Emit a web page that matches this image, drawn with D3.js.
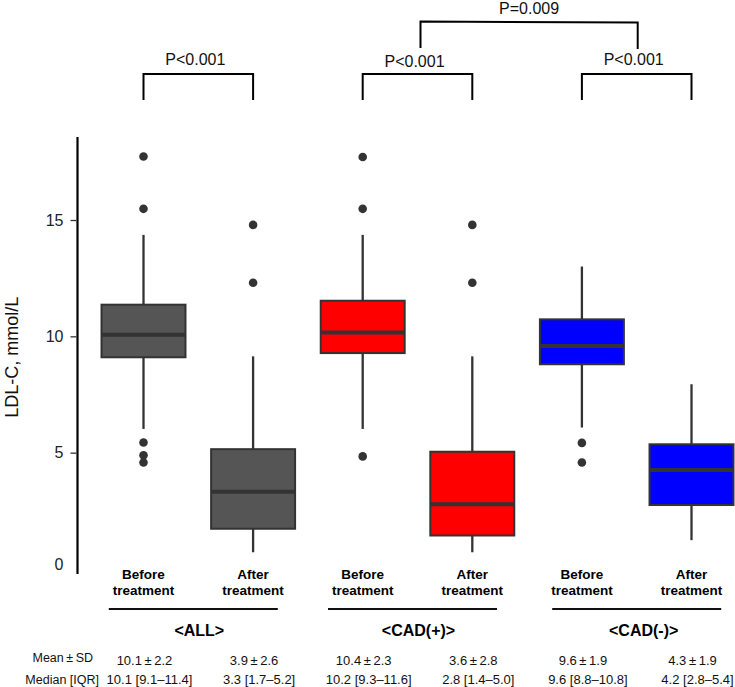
<!DOCTYPE html>
<html>
<head>
<meta charset="utf-8">
<script src="https://cdn.jsdelivr.net/npm/d3@7"></script>
<style>
  html, body { margin: 0; padding: 0; background: #fff; }
  svg { display: block; font-family: "Liberation Sans", Arial, Helvetica, sans-serif; }
</style>
</head>
<body>
<svg id="chart" width="735" height="687"></svg>
<script>
// ---------- data ----------
const keys        = ["ALL_B", "ALL_A", "CADp_B", "CADp_A", "CADm_B", "CADm_A"];
const groups      = ["<ALL>", "<CAD(+)>", "<CAD(-)>"];
const groupOf     = [0, 0, 1, 1, 2, 2];
const fills       = ["#555555", "#ff0000", "#0000ff"];
const whiskerLow  = [6.02, 0.72, 6.02, 0.72, 6.08, 1.24];
const q1          = [9.10, 1.73, 9.28, 1.44, 8.80, 2.75];
const medians     = [10.07, 3.32, 10.17, 2.78, 9.58, 4.25];
const q3          = [11.36, 5.15, 11.53, 5.04, 10.73, 5.36];
const whiskerHigh = [14.36, 9.14, 14.36, 9.14, 13.00, 7.94];
const outliers    = [
  [17.73, 15.48, 5.44, 4.89, 4.58],
  [14.79, 12.30],
  [17.71, 15.48, 4.84],
  [14.79, 12.30],
  [5.42, 4.58],
  []
];
const yTicks      = [0, 5, 10, 15];
const xLabel1     = ["Before", "After", "Before", "After", "Before", "After"];
const xLabel2     = ["treatment", "treatment", "treatment", "treatment", "treatment", "treatment"];
const meanSD      = ["10.1\u2009\u00b1\u20092.2", "3.9\u2009\u00b1\u20092.6", "10.4\u2009\u00b1\u20092.3", "3.6\u2009\u00b1\u20092.8", "9.6\u2009\u00b1\u20091.9", "4.3\u2009\u00b1\u20091.9"];
const medianIQR   = ["10.1 [9.1\u201311.4]", "3.3 [1.7\u20135.2]", "10.2 [9.3\u201311.6]", "2.8 [1.4\u20135.0]", "9.6 [8.8\u201310.8]", "4.2 [2.8\u20135.4]"];
const rowLabels   = ["Mean\u2009\u00b1\u2009SD", "Median [IQR]"];
const pairP       = ["P<0.001", "P<0.001", "P<0.001"];
const groupP      = "P=0.009";
const yTitle      = "LDL-C, mmol/L";

// ---------- layout ----------
const svg = d3.select("#chart");
const x = d3.scalePoint().domain(keys).range([143.5, 691.5]);
const y = d3.scaleLinear().domain([0, 15]).range([569, 220]);
const boxW = x.step() * 0.766;
const dark = "#333333";

// y axis
const axisX = 77.5;
svg.append("line")
  .attr("x1", axisX).attr("x2", axisX)
  .attr("y1", y(18.57)).attr("y2", y(-0.22))
  .attr("stroke", "#000").attr("stroke-width", 2.2);

const yAxis = d3.axisLeft(y).tickValues(yTicks).tickSize(6).tickPadding(7).tickFormat(d3.format("d"));
const gy = svg.append("g").attr("transform", `translate(${axisX - 1},0)`).call(yAxis);
gy.select(".domain").remove();
gy.selectAll(".tick line").attr("stroke", "#333").attr("stroke-width", 1.3)
  .filter(d => d === 0).remove();
gy.selectAll(".tick text")
  .attr("font-size", 16).attr("fill", "#222")
  .attr("font-family", "'Liberation Sans', Arial, sans-serif");
gy.selectAll(".tick").filter(d => d === 0).select("text").attr("dy", "0.05em");

svg.append("text")
  .attr("transform", `translate(18,${y(9.1)}) rotate(-90)`)
  .attr("text-anchor", "middle")
  .attr("font-size", 18).attr("fill", "#111")
  .text(yTitle);

// boxes
const g = svg.append("g");
keys.forEach((k, i) => {
  const cx = x(k);
  g.append("line").attr("x1", cx).attr("x2", cx)
    .attr("y1", y(whiskerHigh[i])).attr("y2", y(q3[i]))
    .attr("stroke", dark).attr("stroke-width", 2.3);
  g.append("line").attr("x1", cx).attr("x2", cx)
    .attr("y1", y(q1[i])).attr("y2", y(whiskerLow[i]))
    .attr("stroke", dark).attr("stroke-width", 2.3);
  g.append("rect")
    .attr("x", cx - boxW / 2).attr("width", boxW)
    .attr("y", y(q3[i])).attr("height", y(q1[i]) - y(q3[i]))
    .attr("fill", fills[groupOf[i]])
    .attr("stroke", dark).attr("stroke-width", 2);
  g.append("line")
    .attr("x1", cx - boxW / 2).attr("x2", cx + boxW / 2)
    .attr("y1", y(medians[i])).attr("y2", y(medians[i]))
    .attr("stroke", dark).attr("stroke-width", 4);
  g.selectAll(null).data(outliers[i]).enter().append("circle")
    .attr("cx", cx).attr("cy", d => y(d)).attr("r", 4.3)
    .attr("fill", dark);
});

// x labels
keys.forEach((k, i) => {
  svg.append("text").attr("x", x(k)).attr("y", 579)
    .attr("text-anchor", "middle").attr("font-size", 13.5).attr("font-weight", "bold").attr("fill", "#000")
    .text(xLabel1[i]);
  svg.append("text").attr("x", x(k)).attr("y", 595)
    .attr("text-anchor", "middle").attr("font-size", 13.5).attr("font-weight", "bold").attr("fill", "#000")
    .text(xLabel2[i]);
});

// group lines & labels
groups.forEach((gname, gi) => {
  const a = x(keys[gi * 2]), b = x(keys[gi * 2 + 1]);
  const mid = (a + b) / 2;
  const off = gi < 2 ? -5 : 0;
  svg.append("line")
    .attr("x1", mid + off - 84.5).attr("x2", mid + off + 84.5)
    .attr("y1", 609).attr("y2", 609)
    .attr("stroke", "#111").attr("stroke-width", 1.8);
  svg.append("text").attr("x", mid + (gi === 2 ? 7 : 1)).attr("y", 636)
    .attr("text-anchor", "middle").attr("font-size", 16).attr("font-weight", "bold").attr("fill", "#000")
    .text(gname);
});

// table rows
svg.append("text").attr("x", 93).attr("y", 662).attr("text-anchor", "end")
  .attr("font-size", 12.5).attr("fill", "#111").text(rowLabels[0]);
svg.append("text").attr("x", 99).attr("y", 684).attr("text-anchor", "end")
  .attr("font-size", 12.5).attr("fill", "#111").text(rowLabels[1]);
keys.forEach((k, i) => {
  svg.append("text").attr("x", x(k) + 1).attr("y", 665).attr("text-anchor", "middle")
    .attr("font-size", 13).attr("fill", "#111").text(meanSD[i]);
  svg.append("text").attr("x", x(k) + 6).attr("y", 684).attr("text-anchor", "middle")
    .attr("font-size", 13).attr("fill", "#111").text(medianIQR[i]);
});

// significance brackets
const pY = [65, 67, 65];
groups.forEach((gname, gi) => {
  const a = x(keys[gi * 2]), b = x(keys[gi * 2 + 1]);
  svg.append("path")
    .attr("d", d3.line()([[a, 100], [a, 74], [b, 74], [b, 100]]))
    .attr("fill", "none").attr("stroke", "#000").attr("stroke-width", 2);
  svg.append("text").attr("x", (a + b) / 2 - 3).attr("y", pY[gi])
    .attr("text-anchor", "middle").attr("font-size", 16).attr("fill", "#111")
    .text(pairP[gi]);
});
const m1 = (x(keys[2]) + x(keys[3])) / 2 + 3;
const m2 = (x(keys[4]) + x(keys[5])) / 2 + 1;
svg.append("path")
  .attr("d", d3.line()([[m1, 48], [m1, 21.5], [m2, 22.5], [m2, 49]]))
  .attr("fill", "none").attr("stroke", "#000").attr("stroke-width", 2);
svg.append("text").attr("x", (m1 + m2) / 2).attr("y", 14)
  .attr("text-anchor", "middle").attr("font-size", 16).attr("fill", "#111")
  .text(groupP);
</script>
</body>
</html>
